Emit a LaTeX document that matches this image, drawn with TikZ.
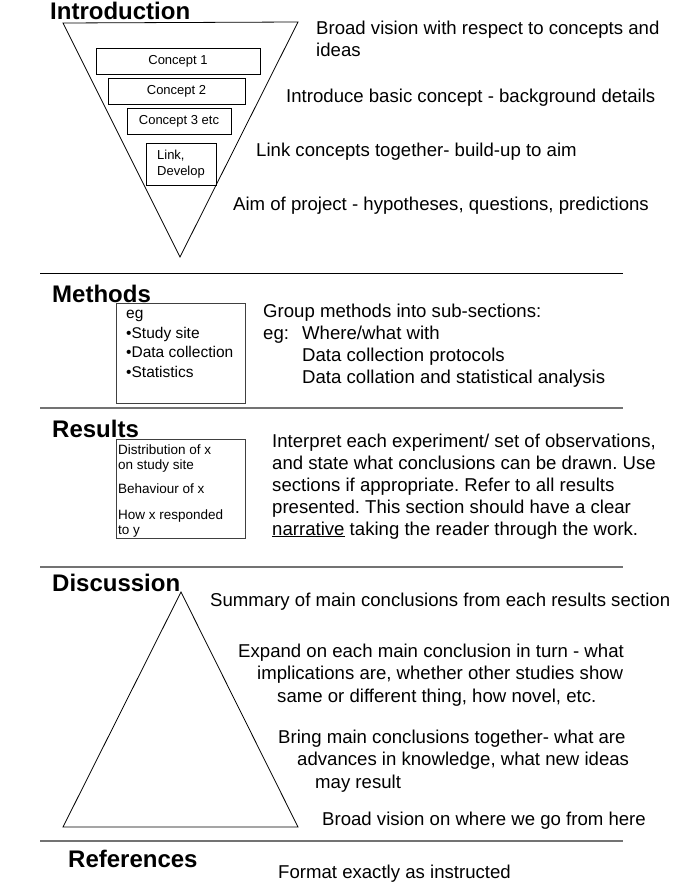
\documentclass[tikz,border=0pt]{standalone}
\usepackage{fontspec}
\setmainfont{Liberation Sans}
\usetikzlibrary{positioning}
\frenchspacing

\tikzset{
  heading/.style={anchor=base west, inner sep=0, font=\fontsize{24}{28}\selectfont\bfseries},
  note/.style={anchor=base west, inner sep=0, align=left, font=\fontsize{18.6}{22}\selectfont},
  concept/.style={draw, line width=0.8pt, inner sep=0, minimum height=26, font=\fontsize{13}{15.6}\selectfont},
  listbox/.style={draw=black!75, line width=0.8pt, inner sep=0, minimum width=129, minimum height=100, anchor=north west},
  rule/.style={line width=1.4pt, black!55}
}

\begin{document}
\begin{tikzpicture}[x=1pt, y=-1pt]
  \fill[white] (0,0) rectangle (678,896);
  \useasboundingbox (0,0) rectangle (678,896);

  % section rules
  \draw[line width=0.8pt] (40,273) -- (623,273);
  \foreach \y in {408, 567, 841}
    \draw[rule] (40,\y) -- (623,\y);

  % headings
  \node[heading] (intro) at (50,20) {Introduction};
  \node[heading] (meth) at (52,302) {Methods};
  \node[heading] (res) at (52,437) {Results};
  \node[heading] (disc) at (52,591) {Discussion};
  \node[heading] (refs) at (68,867) {References};

  % introduction funnel
  \draw[line width=0.8pt] (63,23) -- (298,22) -- (180,257) -- cycle;
  \foreach \name/\cx/\cy/\w/\txt in {c1/178/61/164/Concept 1, c2/176.5/91.5/137/Concept 2, c3/179/121.5/104/Concept 3 etc}
    \node[concept, minimum width=\w] (\name) at (\cx,\cy) {\txt};
  \node[concept, minimum width=70, minimum height=42, align=left] (link) at (181,164) {Link,\\Develop};

  % multi-line notes sit on the baseline of their last line
  \node[note] (broad) at (316,57) {Broad vision with respect to concepts and\\ideas};
  \node[note] (basic) at (286,103) {Introduce basic concept - background details};
  \node[note] (linkup) at (256,157) {Link concepts together- build-up to aim};
  \node[note] (aim) at (233,210) {Aim of project - hypotheses, questions, predictions};

  % methods
  \node[listbox] (methbox) at (116,303) {};
  \node[anchor=north west, inner sep=0, align=left, font=\fontsize{15.5}{19.6}\selectfont]
    (methlist) at ([xshift=10, yshift=-7]methbox.north west)
    {eg\\{\textbullet}Study site\\{\textbullet}Data collection\\{\textbullet}Statistics};
  \node[note] (group) at (263,383) {Group methods into sub-sections:\\
    \makebox[39pt][l]{eg:}Where/what with\\
    \hspace*{39pt}Data collection protocols\\
    \hspace*{39pt}Data collation and statistical analysis};

  % results
  \node[listbox, minimum height=99] (resbox) at (116,439) {};
  \node[anchor=north west, inner sep=0, align=left, font=\fontsize{13.5}{15}\selectfont]
    (reslist) at ([xshift=2, yshift=-6]resbox.north west)
    {Distribution of x\\on study site\\[9pt]Behaviour of x\\[11pt]How x responded\\to y};
  \node[note] (interpret) at (272,535) {Interpret each experiment/ set of observations,\\
    and state what conclusions can be drawn. Use\\
    sections if appropriate. Refer to all results\\
    presented. This section should have a clear\\
    \underline{narrative} taking the reader through the work.};

  % discussion pyramid
  \draw[line width=0.8pt] (181,592) -- (298,827) -- (63,827) -- cycle;
  \node[note] (summary) at (210,606) {Summary of main conclusions from each results section};
  \node[note, font=\fontsize{18.6}{22.5}\selectfont] (expand) at (238,702) {Expand on each main conclusion in turn - what\\
    \hspace*{19pt}implications are, whether other studies show\\
    \hspace*{39pt}same or different thing, how novel, etc.};
  \node[note, font=\fontsize{18.6}{22.5}\selectfont] (bring) at (278,788) {Bring main conclusions together- what are\\
    \hspace*{19pt}advances in knowledge, what new ideas\\
    \hspace*{37pt}may result};
  \node[note] (onward) at (322,825) {Broad vision on where we go from here};

  % references
  \node[note] (format) at (278,878) {Format exactly as instructed};
\end{tikzpicture}
\end{document}
